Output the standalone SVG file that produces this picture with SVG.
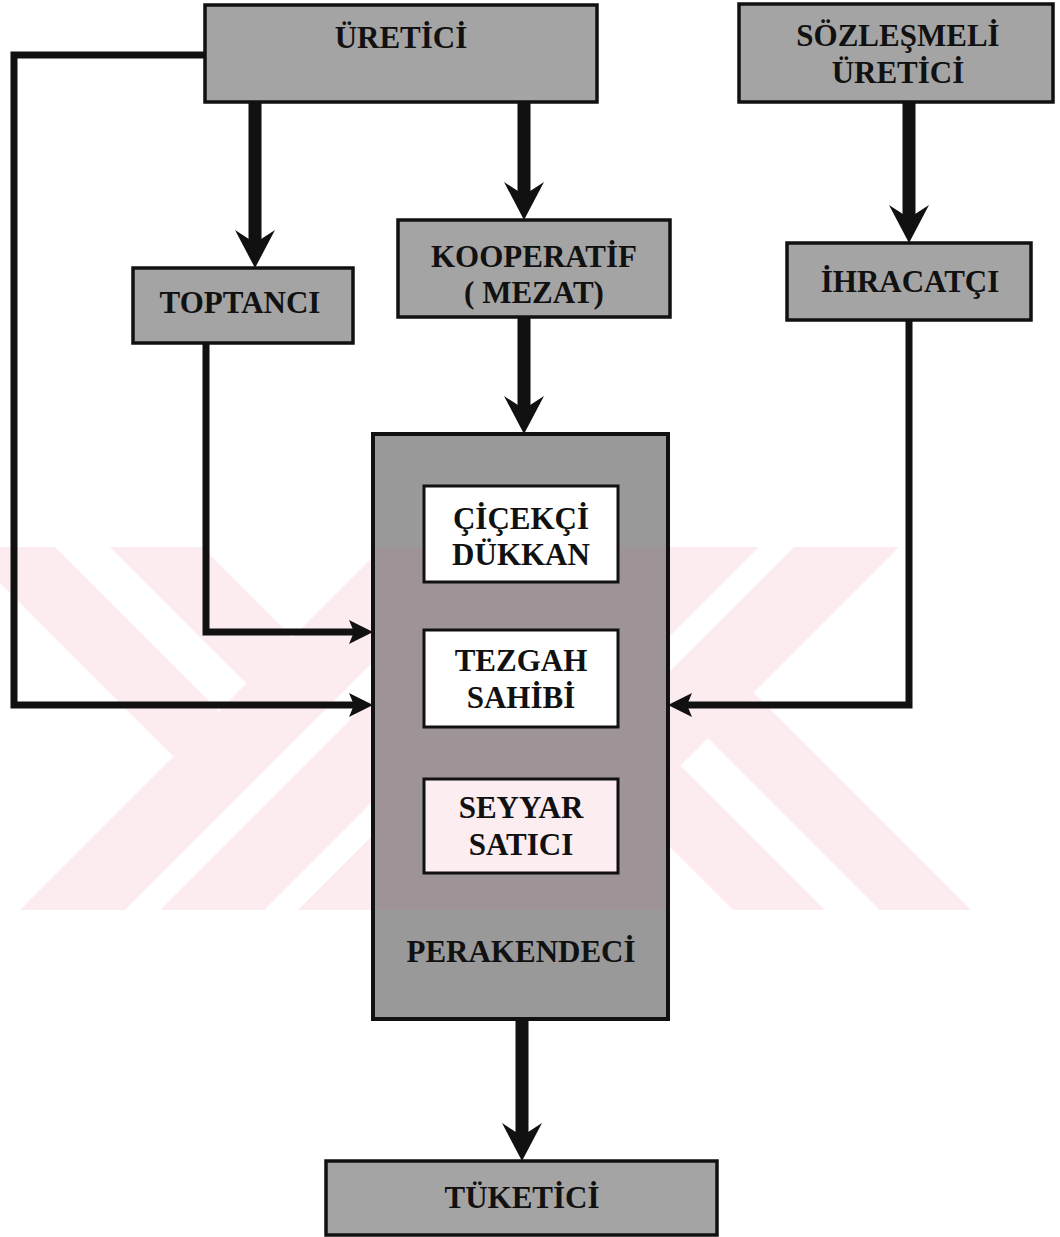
<svg xmlns="http://www.w3.org/2000/svg" xmlns:xlink="http://www.w3.org/1999/xlink" width="1060" height="1237" viewBox="0 0 1060 1237">
<style>
.box{fill:#a4a4a4;stroke:#111;stroke-width:3.5}
.inner{fill:#ffffff;stroke:#111;stroke-width:3}
.lbl{font-family:"Liberation Serif","Times New Roman",serif;font-weight:bold;font-size:31px;fill:#111;text-anchor:middle}
.thick{stroke:#111;stroke-width:13;fill:none}
.thin{stroke:#111;stroke-width:7;fill:none;stroke-linejoin:miter}
</style>
<defs>
<marker id="bigHead" viewBox="0 0 38 40" markerWidth="38" markerHeight="40" refX="14" refY="20" orient="auto" markerUnits="userSpaceOnUse">
<path d="M38,20 L0,0 L13,20 L0,40 Z" fill="#111"/>
</marker>
<marker id="smallHead" viewBox="0 0 24 24" markerWidth="24" markerHeight="24" refX="6" refY="12" orient="auto" markerUnits="userSpaceOnUse">
<path d="M24,12 L0,0 L5,12 L0,24 Z" fill="#111"/>
</marker>
<clipPath id="wmclip"><path d="M0,547 H373 V910 H0 Z M668,547 H990 V910 H668 Z"/></clipPath>
<g id="wmhalf">
<polygon points="155,500 292.5,637.5 246.5,683.5 63,500"/>
<polygon points="8,500 219,711 173.5,756.5 -83,500"/>
<polygon points="-100,1030 462,468 462,573 -100,1135"/>
<polygon points="-100,1170 462,608 462,712 -100,1274"/>
<polygon points="462,746 462,1000 208,1000"/>
</g>
</defs>
<rect width="1060" height="1237" fill="#ffffff"/>
<g id="watermark" clip-path="url(#wmclip)" fill="#fdecef">
<use xlink:href="#wmhalf"/>
<use xlink:href="#wmhalf" transform="rotate(180 463.5 724.5)"/>
</g>
<g id="connectors">
<line class="thick" x1="255" y1="102" x2="255" y2="244" marker-end="url(#bigHead)"/>
<line class="thick" x1="524" y1="102" x2="524" y2="196" marker-end="url(#bigHead)"/>
<line class="thick" x1="524" y1="317" x2="524" y2="410" marker-end="url(#bigHead)"/>
<line class="thick" x1="909" y1="102" x2="909" y2="219" marker-end="url(#bigHead)"/>
<line class="thick" x1="522" y1="1019" x2="522" y2="1137" marker-end="url(#bigHead)"/>
<polyline class="thin" points="205,55 14,55 14,705 355,705" marker-end="url(#smallHead)"/>
<polyline class="thin" points="206,343 206,632 355,632" marker-end="url(#smallHead)"/>
<polyline class="thin" points="909,320 909,705 686,705" marker-end="url(#smallHead)"/>
</g>
<g id="ureticici">
<rect class="box" x="205" y="5" width="392" height="97"/>
<text class="lbl" x="401" y="48">ÜRETİCİ</text>
</g>
<g id="sozlesmeli">
<rect class="box" x="739" y="4" width="314" height="98"/>
<text class="lbl" x="898" y="46">SÖZLEŞMELİ</text>
<text class="lbl" x="898" y="83">ÜRETİCİ</text>
</g>
<g id="toptanci">
<rect class="box" x="133" y="268" width="220" height="75"/>
<text class="lbl" x="240" y="313">TOPTANCI</text>
</g>
<g id="kooperatif">
<rect class="box" x="398" y="220" width="272" height="97"/>
<text class="lbl" x="534" y="267">KOOPERATİF</text>
<text class="lbl" x="534" y="303">( MEZAT)</text>
</g>
<g id="ihracatci">
<rect class="box" x="787" y="243" width="244" height="77"/>
<text class="lbl" x="910" y="292">İHRACATÇI</text>
</g>
<g id="perakendeci">
<rect x="373" y="434" width="295" height="585" fill="#999999"/>
<rect x="373" y="547" width="295" height="363" fill="#9e9497"/>
<rect x="373" y="434" width="295" height="585" fill="none" stroke="#111" stroke-width="4"/>
<text class="lbl" x="521" y="962">PERAKENDECİ</text>
</g>
<g id="cicekci">
<rect class="inner" x="424" y="486" width="194" height="96"/>
<text class="lbl" x="521" y="529">ÇİÇEKÇİ</text>
<text class="lbl" x="521" y="565">DÜKKAN</text>
</g>
<g id="tezgah">
<rect class="inner" x="424" y="630" width="194" height="97"/>
<text class="lbl" x="521" y="671">TEZGAH</text>
<text class="lbl" x="521" y="708">SAHİBİ</text>
</g>
<g id="seyyar">
<rect class="inner" x="424" y="779" width="194" height="94" style="fill:#fcedf0"/>
<text class="lbl" x="521" y="818">SEYYAR</text>
<text class="lbl" x="521" y="855">SATICI</text>
</g>
<g id="tuketici">
<rect class="box" x="326" y="1161" width="391" height="74"/>
<text class="lbl" x="522" y="1208">TÜKETİCİ</text>
</g>
</svg>
